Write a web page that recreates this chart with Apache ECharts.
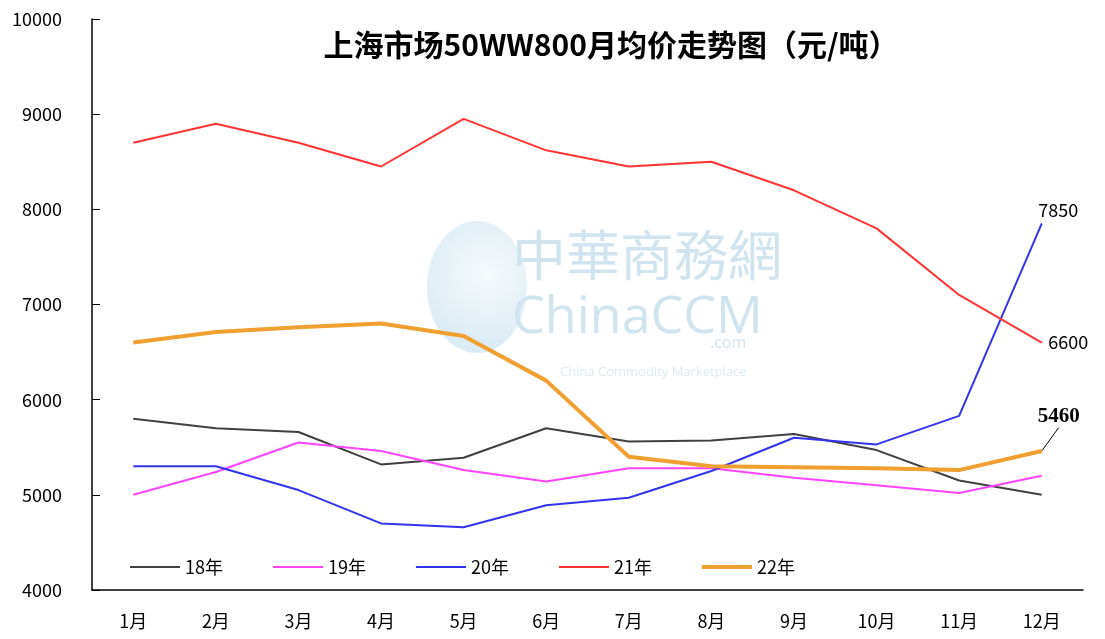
<!DOCTYPE html>
<html><head><meta charset="utf-8">
<script src="https://cdn.jsdelivr.net/npm/echarts@6/dist/echarts.min.js"></script>
<style>html,body{margin:0;padding:0;background:#fff}#c{width:1105px;height:639px}</style>
</head><body><div id="c"></div>
<script>
var categories = ['1月','2月','3月','4月','5月','6月','7月','8月','9月','10月','11月','12月'];
var y18 = [5800,5700,5660,5320,5390,5700,5560,5570,5640,5470,5150,5000];
var y19 = [5000,5240,5550,5460,5260,5140,5280,5280,5180,5100,5020,5200];
var y20 = [5300,5300,5050,4700,4660,4890,4970,5250,5600,5530,5830,7850];
var y21 = [8700,8900,8700,8450,8950,8620,8450,8500,8200,7800,7100,6600];
var y22 = [6600,6710,6760,6800,6670,6200,5400,5300,5290,5280,5260,5460];
var seriesNames = ['18年','19年','20年','21年','22年'];
var yTicks = {min:4000, max:10000, interval:1000};

var FONT = "'Noto Sans CJK SC', sans-serif";
function endLabel(arr, cfg){
  return arr.map(function(v,i){
    if(i===arr.length-1){ return {value:v, symbol:'circle', symbolSize:1,
      label:Object.assign({show:true, formatter:String(v), color:'#000', fontFamily:FONT, fontSize:18}, cfg)}; }
    return v;
  });
}
function mk(name, data, color, width){
  return {name:name, type:'line', data:data, symbol:'none', smooth:false,
    lineStyle:{color:color, width:width}, itemStyle:{color:color}, z:3, animation:false};
}
var thin = 'path://M0,0L0,14M0,6H50V8H0Z';
var thick = 'path://M0,0L0,14M0,5H50V9H0Z';
var s22 = mk(seriesNames[4], endLabel(y22, {position:'top', fontWeight:'bold', fontFamily:'Liberation Serif', fontSize:21}), '#f0a030', 4);
s22.labelLayout = function(p){ if(p.dataIndex===11){ return {dx:17, dy:-18}; } };
s22.labelLine = {show:true, lineStyle:{color:'#000', width:1}};
var option = {
  backgroundColor:'#fff',
  animation:false,
  title:{text:'上海市场50WW800月均价走势图（元/吨）', left:606, textAlign:'center', top:25,
    textStyle:{fontFamily:FONT, fontSize:30, fontWeight:'bold', color:'#000'}},
  grid:{left:92, right:22, top:19, bottom:49},
  legend:{left:125, top:553, itemWidth:50, itemHeight:14, itemGap:50, symbolKeepAspect:false,
    textStyle:{fontFamily:FONT, fontSize:18, color:'#000'},
    data:seriesNames.map(function(n,i){ return {name:n, icon: i===4 ? thick : thin}; })},
  xAxis:{type:'category', data:categories, boundaryGap:true,
    axisLine:{lineStyle:{color:'#000', width:1.5}},
    axisTick:{inside:true, length:6, lineStyle:{color:'#000'}},
    axisLabel:{color:'#000', fontFamily:FONT, fontSize:18, margin:22}},
  yAxis:{type:'value', min:yTicks.min, max:yTicks.max, interval:yTicks.interval,
    axisLine:{show:true, lineStyle:{color:'#000', width:1.5}},
    axisTick:{show:true, inside:true, length:8, lineStyle:{color:'#000'}},
    splitLine:{show:false},
    axisLabel:{color:'#000', fontFamily:FONT, fontSize:18, margin:30, formatter:function(v){return String(v);}}},
  graphic:[
    {type:'ellipse', shape:{cx:477, cy:287, rx:50, ry:66},
      style:{fill:{type:'radial', x:0.6, y:0.4, r:0.7, colorStops:[{offset:0, color:'#f2f8fb'},{offset:1, color:'#cde4f0'}]}, opacity:0.7}, z:0, silent:true},
    {type:'text', left:512, top:228, style:{text:'中華商務網', fontSize:54, fill:'#cfe4ee', fontFamily:FONT}, z:0, silent:true},
    {type:'text', left:512, top:292, style:{text:'ChinaCCM', fontSize:52, fill:'#cfe4ee', fontFamily:"'Open Sans'"}, z:0, silent:true},
    {type:'text', left:710, top:335, style:{text:'.com', fontSize:16, fill:'#cfe4ee', fontFamily:"'Open Sans'"}, z:0, silent:true},
    {type:'text', left:560, top:366, style:{text:'China Commodity Marketplace', fontSize:13, fill:'#dbeaf1', fontFamily:"'Open Sans'"}, z:0, silent:true}
  ],
  series:[
    mk(seriesNames[0], y18, '#404040', 2),
    mk(seriesNames[1], y19, '#ff44ff', 2),
    mk(seriesNames[2], endLabel(y20, {position:'right', offset:[-9,-13], fontFamily:FONT}), '#3333ee', 2),
    mk(seriesNames[3], endLabel(y21, {position:'right', distance:6}), '#ff3333', 2),
    s22
  ]
};
var chart = echarts.init(document.getElementById('c'), null, {renderer:'canvas'});
chart.setOption(option);
</script></body></html>
